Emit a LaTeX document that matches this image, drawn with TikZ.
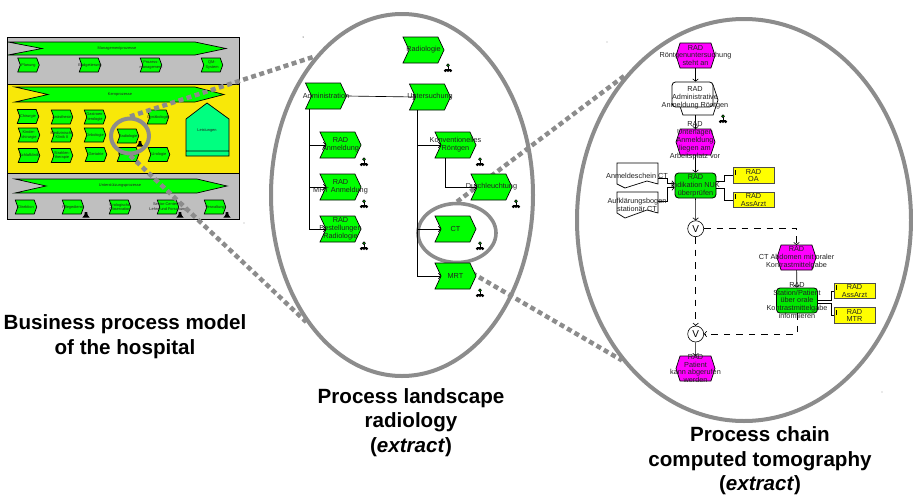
\documentclass[tikz,border=0pt]{standalone}
\usepackage{fontspec}
\setmainfont{Liberation Sans}
\usetikzlibrary{shapes.geometric,shapes.symbols,arrows.meta}
\definecolor{fgreen}{HTML}{00FF00}
\definecolor{rgreen}{HTML}{00E600}
\definecolor{hexm}{HTML}{FF00FF}
\definecolor{boxy}{HTML}{FFFF00}
\definecolor{bandy}{HTML}{F8E808}
\definecolor{bandg}{HTML}{BFBFBF}
\definecolor{house}{HTML}{00FF80}
\definecolor{ringg}{HTML}{8C8C8C}
\definecolor{txt}{HTML}{222222}
\newcommand\smalltree[1]{\begin{scope}[shift={(#1)}]
 \draw[black,line width=1pt] (0,-2.5) -- (0,1) (-2.6,2.8) -- (-2.6,1) -- (2.6,1) -- (2.6,2.8);
 \fill[black] (0,-2.8) circle (1.9pt) (-2.6,2.6) circle (1.6pt) (2.6,2.6) circle (1.6pt) (0,2.6) circle (1.6pt);
 \fill[fgreen!70!black] (0,-2.8) circle (.8pt);
\end{scope}}
\newcommand\smallblob[1]{\fill[black,shift={(#1)}] (-1.2,-3) -- (1.2,-3) -- (1.6,0) -- (3.6,2.6) -- (-3.6,2.6) -- (-1.6,0) -- cycle;}
\tikzset{
 chevbase/.style={signal,signal to=east,signal from=west,draw=black,fill=fgreen,inner sep=0pt,outer sep=0pt},
 chev/.style={chevbase,signal pointer angle=130,line width=.7pt,minimum width=41pt,minimum height=26pt,
   label={[lab]center:{#1}}},
 tinychev/.style={chevbase,signal pointer angle=140,line width=.7pt,minimum width=21.5pt,minimum height=14pt,
   label={[tinylab]center:{#1}}},
 lab/.style={font=\fontsize{7.3}{7.9}\selectfont,align=center,text=txt,inner sep=0pt},
 tinylab/.style={font=\fontsize{3.9}{4.4}\selectfont,align=center,text=txt,inner sep=0pt},
 hexa/.style={signal,signal to=east and west,signal from=nowhere,signal pointer angle=144,
   draw=black,fill=hexm,line width=.7pt,inner sep=0pt,outer sep=0pt,minimum width=39pt,minimum height=25pt},
 func/.style={rectangle,rounded corners=3.5pt,draw=black,fill=rgreen,line width=.8pt,inner sep=0pt,minimum width=41pt,minimum height=25pt},
 role/.style={rectangle,draw=black!70,fill=boxy,line width=.9pt,inner sep=0pt,minimum width=41pt,minimum height=15.5pt,label={[lab]center:{#1}}},
 xorc/.style={circle,draw=black,fill=white,line width=.6pt,inner sep=0pt,minimum size=16pt,font=\fontsize{10}{10}\selectfont},
 conn/.style={draw=black,line width=.65pt,-{Straight Barb[length=2.2pt,width=5.5pt]}},
 plain/.style={draw=black,line width=.65pt},
 dconn/.style={conn,dash pattern=on 6.5pt off 6pt},
 ringl/.style={ellipse,draw=ringg,inner sep=0pt},
 dots/.style={draw=ringg,line width=4.5pt,dash pattern=on 5pt off 3.5pt},
 titl/.style={font=\fontsize{20.6}{24.6}\selectfont\bfseries,align=center,text=black,inner sep=0pt},
 x=1pt,y=-1pt}
\begin{document}
\begin{tikzpicture}
\useasboundingbox (0,0) rectangle (913,498);
% --- left panel
\fill[bandg] (7,37) rectangle (239,84);
\fill[bandy] (7,84) rectangle (239,173);
\fill[bandg] (7,173) rectangle (239,219);
\draw[black,line width=.8pt] (7,37) rectangle (239,219) (7,84) -- (239,84) (7,173) -- (239,173);
\draw[fill=fgreen,line width=.7pt] (8,42) -- (195,42) -- (226,48.5) -- (195,55) -- (8,55) -- (42,48.5) -- cycle;
\draw[fill=fgreen,line width=.7pt] (15,87) -- (195,87) -- (224,94.5) -- (195,102) -- (15,102) -- (48,94.5) -- cycle;
\draw[fill=fgreen,line width=.7pt] (15,179) -- (197,179) -- (227,186) -- (197,193) -- (15,193) -- (46,186) -- cycle;
\node[tinylab] (bannerA) at (117,48.5) {Managementprozesse};
\node[tinylab] (bannerB) at (120,94.5) {Kernprozesse};
\node[tinylab] (bannerC) at (120,186) {Unterstützungsprozesse};
\node[tinychev={Planung}] (l1) at (28.5,65) {};
\node[tinychev={Budgetierung}] (l2) at (90,65) {};
\node[tinychev={Prozess-\\management}] (l3) at (151,65) {};
\node[tinychev={QM-\\System}] (l4) at (212,65) {};
\node[tinychev={Chirurgie}] (k1) at (28,116.5) {};
\node[tinychev={Anästhesie}] (k2) at (62,117) {};
\node[tinychev={Gastroen-\\terologie}] (k3) at (95,117) {};
\node[tinychev={Gynäkologie}] (k4) at (158,117) {};
\node[tinychev={Kinder-\\chirurgie}] (k5) at (29,135) {};
\node[tinychev={Medizinische\\Klinik II}] (k6) at (62,135) {};
\node[tinychev={Onkologie}] (k7) at (95,135) {};
\node[tinychev={Radiologie}] (k8) at (128,136) {};
\node[tinychev={Schlafklinik}] (k9) at (29,155.5) {};
\node[tinychev={Strahlen-\\therapie}] (k10) at (62,155.5) {};
\node[tinychev={Geriatrie}] (k11) at (96,154.5) {};
\node[tinychev={Kardiologie}] (k12) at (128,154.5) {};
\node[tinychev={Urologie}] (k13) at (159,154.5) {};
\draw[fill=house,line width=.7pt] (186,119) -- (207,103) -- (229,119) -- (229,156) -- (186,156) -- cycle (186,151) -- (229,151);
\node[tinylab] (leist) at (207,130) {Leistungen};
\node[tinychev={Direktion}] (u1) at (26,207) {};
\node[tinychev={Pflegedienst}] (u2) at (73,207) {};
\node[tinychev={Urologische\\Observation}] (u3) at (120,207) {};
\node[tinychev={Senior-Center für\\Lehre und Forschung}] (u4) at (168,207) {};
\node[tinychev={Verwaltung}] (u5) at (215,207) {};
\smallblob{86,215}\smallblob{180,215}\smallblob{227,215}\smallblob{140,144}
% --- rings
\node[ringl,line width=4pt,minimum width=38pt,minimum height=35pt] (ringL) at (130,136) {};
\node[ringl,line width=4pt,minimum width=262pt,minimum height=362pt] (ellM) at (402,195) {};
\node[ringl,line width=3.6pt,minimum width=78pt,minimum height=59pt] (ringC) at (457,233) {};
\node[ringl,line width=4pt,minimum width=334pt,minimum height=402pt] (ellR) at (744,220) {};
\draw[dots] (ringL.north) -- (ellM.122.4);
\draw[dots] (ringL.south) -- (ellM.233.4);
\draw[dots] (ringC.north) -- (ellR.129.4);
\draw[dots] (ringC.south) -- (ellR.229.6);
% --- middle panel
\node[chev={Radiologie}] (radio) at (423.5,50) {};
\node[chev={Administration}] (adm) at (326,96) {};
\node[chev={Untersuchung}] (unt) at (430,97) {};
\node[chev={RAD\\Anmeldung}] (ran) at (340.5,145) {};
\node[chev={RAD\\MRT Anmeldung}] (rmr) at (340.5,187) {};
\node[chev={RAD\\Bestellungen\\Radiologie}] (rbe) at (340.5,229) {};
\node[chev={Konventionelles\\Röntgen}] (kon) at (455.5,145) {};
\node[chev={Durchleuchtung}] (dur) at (491.5,187) {};
\node[chev={CT}] (ct) at (455.5,229) {};
\node[chev={MRT}] (mrt) at (455.5,276) {};
\smalltree{448,68}\smalltree{364,162}\smalltree{480,162}\smalltree{364,204}\smalltree{364,246}\smalltree{516,204}\smalltree{480,246}\smalltree{480,293}
\draw[conn] (adm.east) -- (unt.west);
\draw[conn] ([xshift=4pt]adm.south west) |- (ran.west);
\draw[conn] ([xshift=4pt]adm.south west) |- (rmr.west);
\draw[conn] ([xshift=4pt]adm.south west) |- (rbe.west);
\draw[conn] ([xshift=8pt]unt.south west) |- (ct.west);
\draw[conn] ([xshift=8pt]unt.south west) |- (mrt.west);
\draw[conn] ([xshift=8pt]unt.south west) |- (kon.west);
\draw[conn] ([xshift=10pt]kon.south west) |- (dur.west);
% --- right panel
\node[hexa] (e1) at (695.5,55.5) {};
\node[hexa,fill=white,minimum width=40pt,minimum height=30pt] (fb) at (698,100) {};
\node[func,fill=white] (f1) at (692.5,94.5) {};
\node[hexa,minimum height=26pt] (e2) at (695.5,142) {};
\node[func] (f2) at (695.5,185.5) {};
\node[hexa] (e3) at (796.5,257.5) {};
\node[func] (f3) at (797,300.5) {};
\node[hexa] (e4) at (695.5,368.5) {};
\node[xorc] (x1) at (695.7,228.7) {V};
\node[xorc] (x2) at (695.7,334) {V};
\draw[fill=white,line width=.7pt] (617,163) -- (658,163) -- (658,184) -- (647,181) -- (625,188) -- (617,184) -- cycle;
\draw[fill=white,line width=.7pt] (617,192) -- (658,192) -- (658,213) -- (647,210) -- (625,218) -- (617,213) -- cycle;
\node[inner sep=0pt,minimum width=41pt,minimum height=25pt] (d1) at (637.5,175.5) {};
\node[inner sep=0pt,minimum width=41pt,minimum height=25pt] (d2) at (637.5,205) {};
\node[role={RAD\\OA}] (r1) at (753.5,175.5) {};
\node[role={RAD\\AssArzt}] (r2) at (753.5,200) {};
\node[role={RAD\\AssArzt}] (r3) at (854.5,291) {};
\node[role={RAD\\MTR}] (r4) at (854.5,315.5) {};
\draw[black,line width=1pt] (735,170) -- (735,175) (735,194) -- (735,199) (836,285) -- (836,290) (836,310) -- (836,315);
\smalltree{723,119}
\draw[conn] (e1) -- (f1.north -| e1);
\draw[conn] (fb.south -| e1) -- (e2);
\draw[conn] (e2) -- (f2);
\draw[conn] (f2) -- (x1);
\draw[dconn] (x1) -- (x2);
\draw[dconn] (x1) -| (e3);
\draw[conn] (e3) -- (f3);
\draw[dconn] (f3) |- (x2);
\draw[conn] (x2) -- (e4);
\draw[conn] ([yshift=-3pt]d1.east) -- ++(9,0) |- ([yshift=2pt]f2.west);
\draw[conn] ([yshift=4pt]d2.east) -- ++(9,0) |- ([yshift=-2pt]f2.west);
\draw[plain] ([yshift=4pt]f2.east) -- ++(8,0) |- (r1.west);
\draw[plain] ([yshift=-3pt]f2.east) -- ++(8,0) |- (r2.west);
\draw[plain] ([yshift=0pt]f3.east) -- ++(13,0) |- (r3.west);
\draw[plain] ([yshift=-2.5pt]f3.east) -- ++(13,0) |- (r4.west);
% --- labels of the chain
\node[lab] (t1) at (e1) {RAD\\Röntgenuntersuchung\\steht an};
\node[lab] (t2) at (695,98) {RAD\\Administrative\\Anmeldung Röntgen};
\node[lab] (t3) at (695,141) {RAD\\Unterlagen\\Anmeldung\\liegen am\\Arbeitsplatz vor};
\node[lab] (t4) at (f2) {RAD\\Indikation NUK\\überprüfen};
\node[lab] (t5) at (e3) {RAD\\CT Abdomen mit oraler\\Kontrastmittelgabe};
\node[lab] (t6) at (f3) {RAD\\Station/Patient\\über orale\\Kontrastmittelgabe\\informieren};
\node[lab] (t7) at (e4) {RAD\\Patient\\kann abgerufen\\werden};
\node[lab] (t8) at (637,176) {Anmeldeschein CT};
\node[lab] (t9) at (637,204.5) {Aufklärungsbogen\\stationär CT};
% --- specks
\fill[black] (303,37) circle (.5pt) (607,42) circle (.4pt) (882,392) circle (.4pt) (244,223) circle (.4pt);
% --- titles
\node[titl] (c1) at (125,336.5) {Business process model\\of the hospital};
\node[titl] (c2) at (411,422.5) {Process landscape\\radiology\\(\textit{extract})};
\node[titl] (c3) at (760,461) {Process chain\\computed tomography\\(\textit{extract})};
\end{tikzpicture}
\end{document}
